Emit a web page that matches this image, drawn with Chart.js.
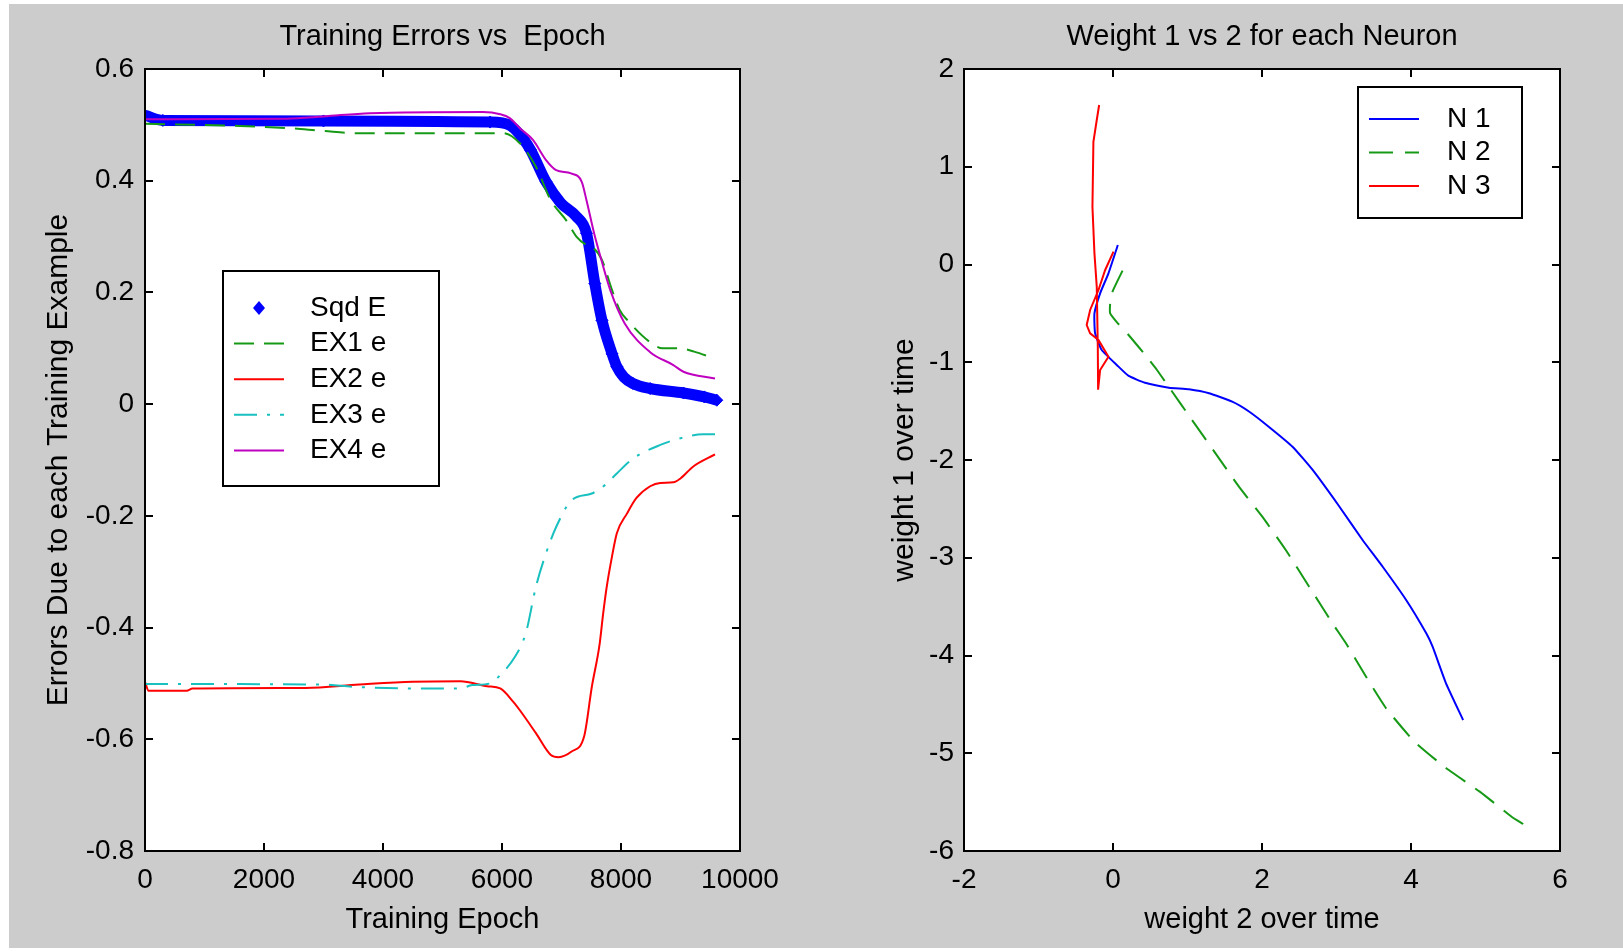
<!DOCTYPE html>
<html>
<head>
<meta charset="utf-8">
<script src="https://cdn.jsdelivr.net/npm/chart.js@4.4.0/dist/chart.umd.min.js"></script>
<style>
html,body{margin:0;padding:0;background:#ffffff;width:1623px;height:951px;overflow:hidden;}
#bg{position:absolute;left:9px;top:4px;width:1614px;height:944px;background:#cccccc;}
canvas{position:absolute;top:0;}
#c1{left:0;}
#c2{left:811px;}
</style>
</head>
<body>
<div id="bg"></div>
<canvas id="c1" width="811" height="951"></canvas>
<canvas id="c2" width="812" height="951"></canvas>
<script>
// ---------- Left chart data (Training Errors vs Epoch) ----------
const epochTicks = [0, 2000, 4000, 6000, 8000, 10000];
const errTicks = [-0.8, -0.6, -0.4, -0.2, 0, 0.2, 0.4, 0.6];

const sqdEpoch = [0, 300, 3000, 5800, 6134, 6350, 6480, 6740, 6990, 7250, 7420, 7560, 7680, 7850, 7930, 8050, 8200, 8490, 9050, 9400, 9610];
const sqdErr   = [0.517, 0.508, 0.507, 0.505, 0.499, 0.476, 0.455, 0.398, 0.360, 0.336, 0.306, 0.216, 0.150, 0.090, 0.067, 0.048, 0.037, 0.028, 0.020, 0.013, 0.007];

const ex1Epoch = [0, 1600, 2440, 3000, 3600, 6020, 6300, 6570, 6820, 7080, 7250, 7420, 7510, 7680, 7850, 7980, 8110, 8500, 8700, 8970, 9230, 9560];
const ex1Err   = [0.502, 0.498, 0.494, 0.489, 0.485, 0.485, 0.467, 0.425, 0.365, 0.329, 0.300, 0.285, 0.282, 0.258, 0.204, 0.168, 0.150, 0.110, 0.100, 0.100, 0.094, 0.082];

const ex2Epoch = [0, 60, 700, 800, 2700, 3600, 4500, 5300, 5750, 5970, 6190, 6300, 6570, 6820, 6950, 7170, 7380, 7510, 7640, 7700, 7760, 7850, 7930, 8100, 8260, 8490, 8660, 8880, 9000, 9210, 9580];
const ex2Err   = [-0.497, -0.513, -0.513, -0.509, -0.508, -0.502, -0.497, -0.496, -0.505, -0.509, -0.533, -0.548, -0.589, -0.628, -0.632, -0.622, -0.595, -0.506, -0.430, -0.375, -0.327, -0.272, -0.231, -0.196, -0.168, -0.147, -0.141, -0.140, -0.133, -0.112, -0.090];

const ex3Epoch = [0, 3000, 3500, 4500, 5300, 5500, 5800, 5970, 6220, 6400, 6570, 6740, 6910, 7170, 7510, 7730, 7930, 8210, 8660, 9000, 9380, 9580];
const ex3Err   = [-0.501, -0.502, -0.506, -0.509, -0.509, -0.503, -0.500, -0.485, -0.452, -0.410, -0.327, -0.267, -0.220, -0.172, -0.160, -0.145, -0.124, -0.097, -0.073, -0.061, -0.054, -0.054];

const ex4Epoch = [0, 2380, 3000, 3780, 5680, 5970, 6130, 6300, 6520, 6740, 6910, 7160, 7340, 7420, 7550, 7660, 7820, 8060, 8490, 8880, 9050, 9580];
const ex4Err   = [0.510, 0.511, 0.515, 0.521, 0.523, 0.519, 0.512, 0.494, 0.473, 0.437, 0.419, 0.413, 0.398, 0.365, 0.305, 0.262, 0.204, 0.145, 0.093, 0.070, 0.058, 0.046];

// ---------- Right chart data (Weight 1 vs 2 for each Neuron) ----------
const w2Ticks = [-2, 0, 2, 4, 6];
const w1Ticks = [-6, -5, -4, -3, -2, -1, 0, 1, 2];

const n1W2 = [0.065, -0.061, -0.173, -0.249, -0.240, -0.151, 0.074, 0.21, 0.43, 0.75, 1.02, 1.29, 1.60, 1.83, 2.09, 2.41, 2.68, 3.04, 3.35, 3.62, 3.935, 4.205, 4.29, 4.47, 4.70];
const n1W1 = [0.20, -0.09, -0.295, -0.50, -0.704, -0.875, -1.045, -1.14, -1.21, -1.26, -1.277, -1.318, -1.403, -1.506, -1.659, -1.864, -2.102, -2.478, -2.818, -3.092, -3.432, -3.773, -3.91, -4.284, -4.66];

const n2W2 = [0.128, -0.007, -0.038, -0.038, 0.065, 0.209, 0.433, 0.59, 0.747, 1.061, 1.376, 1.69, 2.004, 2.319, 2.633, 2.947, 3.127, 3.397, 3.666, 4.047, 4.474, 4.923, 5.35, 5.506];
const n2W1 = [-0.063, -0.278, -0.397, -0.50, -0.602, -0.721, -0.926, -1.079, -1.25, -1.591, -1.932, -2.273, -2.58, -2.921, -3.296, -3.671, -3.875, -4.217, -4.54, -4.882, -5.154, -5.393, -5.649, -5.724];

const n3W2 = [0.007, -0.105, -0.195, -0.307, -0.353, -0.307, -0.195, -0.061, -0.173, -0.200, -0.204, -0.218, -0.249, -0.276, -0.263, -0.218, -0.186];
const n3W1 = [0.131, -0.056, -0.261, -0.465, -0.619, -0.704, -0.772, -0.943, -1.079, -1.28, -0.841, -0.227, 0.114, 0.591, 1.256, 1.478, 1.632];

// ---------- helpers ----------
const FONT = "'Liberation Sans', Arial, Helvetica, sans-serif";
const BLUE = '#0000ff', GREEN = '#169a16', RED = '#ff0000', CYAN = '#19c0c0', MAGENTA = '#c000c0';
const pts = (xs, ys) => xs.map((x, i) => ({x: x, y: ys[i]}));
const fmt = v => { const r = Math.round(v * 10) / 10; return r === 0 ? '0' : String(r); };

const framePlugin = {
  id: 'frame',
  beforeDraw(chart) {
    const {ctx, chartArea: a} = chart;
    ctx.save();
    ctx.fillStyle = '#ffffff';
    ctx.fillRect(a.left, a.top, a.right - a.left, a.bottom - a.top);
    ctx.restore();
  },
  afterDatasetsDraw(chart) {
    const {ctx, chartArea: a, scales} = chart;
    const x = scales.x, y = scales.y;
    const L = 8;
    ctx.save();
    ctx.strokeStyle = '#000';
    ctx.lineWidth = 2;
    ctx.setLineDash([]);
    ctx.strokeRect(a.left, a.top, a.right - a.left, a.bottom - a.top);
    ctx.beginPath();
    x.ticks.forEach(t => {
      const px = Math.round(x.getPixelForValue(t.value));
      ctx.moveTo(px, a.bottom); ctx.lineTo(px, a.bottom - L);
      ctx.moveTo(px, a.top); ctx.lineTo(px, a.top + L);
    });
    y.ticks.forEach(t => {
      const py = Math.round(y.getPixelForValue(t.value));
      ctx.moveTo(a.left, py); ctx.lineTo(a.left + L, py);
      ctx.moveTo(a.right, py); ctx.lineTo(a.right - L, py);
    });
    ctx.stroke();
    ctx.restore();
  }
};

const boxLegend = {
  id: 'boxLegend',
  afterDraw(chart, args, o) {
    const {ctx, chartArea: a} = chart;
    const x0 = a.left + o.dx, y0 = a.top + o.dy;
    ctx.save();
    ctx.fillStyle = '#ffffff';
    ctx.fillRect(x0, y0, o.w, o.h);
    ctx.strokeStyle = '#000';
    ctx.lineWidth = 2;
    ctx.setLineDash([]);
    ctx.strokeRect(x0, y0, o.w, o.h);
    chart.data.datasets.forEach((ds, i) => {
      const yy = y0 + o.first + i * o.step;
      const lx0 = x0 + o.lineX, lx1 = lx0 + o.lineLen;
      if (ds.pointRadius > 0) {
        const cx = (lx0 + lx1) / 2;
        ctx.fillStyle = ds.pointBackgroundColor;
        ctx.beginPath();
        ctx.moveTo(cx, yy - 7); ctx.lineTo(cx + 6, yy); ctx.lineTo(cx, yy + 7); ctx.lineTo(cx - 6, yy);
        ctx.closePath();
        ctx.fill();
      } else {
        ctx.strokeStyle = ds.borderColor;
        ctx.lineWidth = 2;
        ctx.setLineDash(ds.borderDash || []);
        ctx.beginPath();
        ctx.moveTo(lx0, yy); ctx.lineTo(lx1, yy);
        ctx.stroke();
        ctx.setLineDash([]);
      }
      ctx.fillStyle = '#000';
      ctx.font = o.fontSize + 'px ' + FONT;
      ctx.textBaseline = 'middle';
      ctx.textAlign = 'left';
      ctx.fillText(ds.label, x0 + o.textX, yy);
    });
    ctx.restore();
  }
};

function axis(min, max, tickVals, size, tickPad, titleText, titleSize, titlePad, isY) {
  return {
    type: 'linear', min: min, max: max,
    afterBuildTicks: s => { s.ticks = tickVals.map(v => ({value: v})); },
    afterFit: s => { if (isY) s.width = size; else s.height = size; },
    grid: {display: false, drawTicks: false},
    border: {display: false},
    ticks: {color: '#000', font: {family: FONT, size: 28, lineHeight: 1.2}, padding: tickPad,
            maxRotation: 0, autoSkip: false, callback: v => fmt(v)},
    title: {display: true, text: titleText, color: '#000',
            font: {family: FONT, size: titleSize, lineHeight: 1.2}, padding: titlePad}
  };
}

function lineDs(label, data, color, dash, order, tension) {
  return {label: label, data: data, showLine: true, borderColor: color, backgroundColor: color,
          borderWidth: 2, borderDash: dash, pointRadius: 0, order: order,
          tension: tension, fill: false};
}

// ---------- Left chart ----------
new Chart(document.getElementById('c1'), {
  type: 'scatter',
  data: {
    datasets: [
      {label: 'Sqd E', data: pts(sqdEpoch, sqdErr), showLine: true, borderColor: BLUE, backgroundColor: BLUE,
       borderWidth: 11, pointRadius: 6, pointStyle: 'rectRot', pointBackgroundColor: BLUE, pointBorderColor: BLUE,
       pointBorderWidth: 1, order: 5, cubicInterpolationMode: 'monotone'},
      Object.assign(lineDs('EX1 e', pts(ex1Epoch, ex1Err), GREEN, [20, 10], 4, 0), {cubicInterpolationMode: 'monotone'}),
      Object.assign(lineDs('EX2 e', pts(ex2Epoch, ex2Err), RED, [], 3, 0), {cubicInterpolationMode: 'monotone'}),
      Object.assign(lineDs('EX3 e', pts(ex3Epoch, ex3Err), CYAN, [23, 10, 3, 10], 2, 0), {cubicInterpolationMode: 'monotone'}),
      Object.assign(lineDs('EX4 e', pts(ex4Epoch, ex4Err), MAGENTA, [], 1, 0), {cubicInterpolationMode: 'monotone'})
    ]
  },
  options: {
    responsive: false, animation: false, devicePixelRatio: 1, events: [],
    layout: {padding: {left: 0, right: 71, top: 0, bottom: 0}},
    scales: {
      x: axis(0, 10000, epochTicks, 100, 12, 'Training Epoch', 29, {top: 0, bottom: 13.6}, false),
      y: axis(-0.8, 0.6, errTicks, 145, 11, 'Errors Due to each Training Example', 30, {top: 41, bottom: 0}, true)
    },
    plugins: {
      legend: {display: false},
      tooltip: {enabled: false},
      title: {display: true, text: 'Training Errors vs  Epoch', color: '#000', fullSize: false,
              font: {family: FONT, size: 29, weight: 'normal', lineHeight: 1.2}, padding: {top: 20, bottom: 14.2}},
      boxLegend: {dx: 78, dy: 202, w: 216, h: 215, first: 37, step: 35.6, lineX: 11, lineLen: 50, textX: 87, fontSize: 28}
    }
  },
  plugins: [framePlugin, boxLegend]
});

// ---------- Right chart ----------
new Chart(document.getElementById('c2'), {
  type: 'scatter',
  data: {
    datasets: [
      lineDs('N 1', pts(n1W2, n1W1), BLUE, [], 3, 0.15),
      lineDs('N 2', pts(n2W2, n2W1), GREEN, [24, 12], 2, 0.15),
      lineDs('N 3', pts(n3W2, n3W1), RED, [], 1, 0)
    ]
  },
  options: {
    responsive: false, animation: false, devicePixelRatio: 1, events: [],
    layout: {padding: {left: 0, right: 63, top: 0, bottom: 0}},
    scales: {
      x: axis(-2, 6, w2Ticks, 100, 12, 'weight 2 over time', 29, {top: 0, bottom: 13.6}, false),
      y: axis(-6, 2, w1Ticks, 153, 10, 'weight 1 over time', 30, {top: 75.5, bottom: 0}, true)
    },
    plugins: {
      legend: {display: false},
      tooltip: {enabled: false},
      title: {display: true, text: 'Weight 1 vs 2 for each Neuron', color: '#000', fullSize: false,
              font: {family: FONT, size: 29, weight: 'normal', lineHeight: 1.2}, padding: {top: 20, bottom: 14.2}},
      boxLegend: {dx: 394, dy: 18, w: 164, h: 131, first: 32, step: 33.5, lineX: 11, lineLen: 50, textX: 89, fontSize: 28}
    }
  },
  plugins: [framePlugin, boxLegend]
});
</script>
</body>
</html>
